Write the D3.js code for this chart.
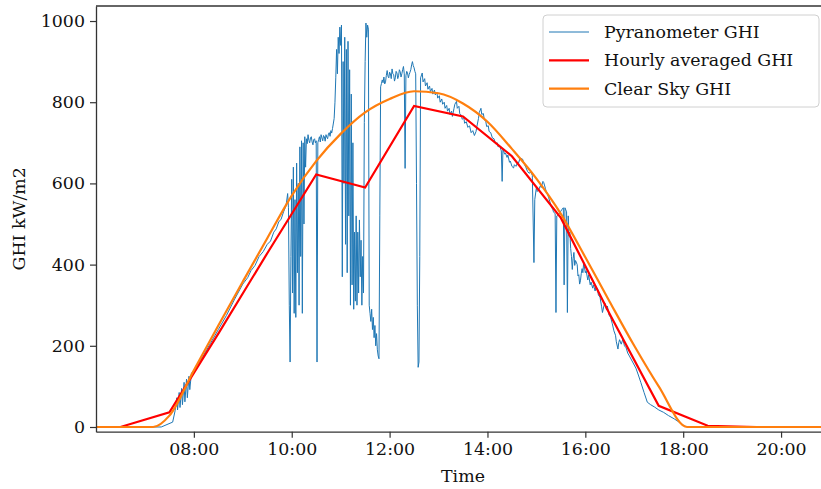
<!DOCTYPE html>
<html>
<head>
<meta charset="utf-8">
<script src="https://cdn.jsdelivr.net/npm/d3@7"></script>
<style>
  body { margin: 0; background: #fff; }
  text { font-family: "DejaVu Serif", serif; fill: #111; }
</style>
</head>
<body>
<svg id="chart"></svg>
<script>
// Pyranometer readings (time, GHI)
let pyranometer = [
  ["06:00",0],["07:20",0],["07:34",12],["07:37",40],["07:39",72],["07:40",42],["07:42",85],["07:43",48],
  ["07:45",95],["07:46",55],["07:48",110],["07:49",62],["07:51",118],["07:52",72],["07:54",125],["07:55",92],
  ["07:57",132],["08:00",140],["08:10",170],["08:20",205],["08:30",240],["08:40",275],["08:50",315],["09:00",352],
  ["09:06",368],["09:10",385],["09:15",398],["09:20",420],["09:25",432],["09:30",450],["09:34",458],["09:38",480],
  ["09:41",488],["09:44",505],["09:47",512],["09:50",530],["09:53",545],["09:55",575],
  ["09:56",540],["09:57",300],["09:58",160],["09:59",420],["10:00",610],["10:01",330],["10:02",640],["10:03",280],
  ["10:04",560],["10:05",270],["10:06",650],["10:07",380],["10:08",600],["10:09",300],["10:10",690],["10:11",420],
  ["10:12",705],["10:13",280],["10:14",700],["10:15",500],["10:16",715],["10:17",640],["10:18",710],["10:19",698],
  ["10:20",720],["10:21",706],["10:22",700],["10:23",712],["10:24",715],["10:25",702],["10:26",695],["10:27",708],
  ["10:28",710],["10:29",700],["10:30",705],["10:31",160],["10:32",700],["10:33",708],["10:34",715],["10:35",702],
  ["10:36",720],["10:37",712],["10:38",705],["10:39",718],["10:40",715],["10:41",704],["10:42",720],["10:43",714],
  ["10:44",710],["10:45",722],["10:46",725],["10:47",716],["10:48",730],["10:49",724],["10:50",735],
  ["10:52",760],["10:53",800],["10:54",860],["10:55",930],["10:56",870],["10:57",960],["10:58",920],["10:59",985],
  ["11:00",940],["11:01",990],["11:02",370],["11:03",900],["11:04",600],["11:05",960],["11:06",450],["11:07",930],
  ["11:08",380],["11:09",950],["11:10",520],["11:11",880],["11:12",300],["11:13",820],["11:14",350],["11:15",700],
  ["11:16",290],["11:17",480],["11:18",310],["11:19",520],["11:20",300],["11:21",480],["11:22",330],["11:23",510],
  ["11:24",370],["11:25",460],["11:26",300],["11:27",420],["11:28",330],["11:29",750],["11:30",900],["11:31",995],
  ["11:32",960],["11:33",990],["11:34",980],["11:35",300],["11:36",280],["11:37",260],["11:38",290],["11:39",240],
  ["11:40",270],["11:41",220],["11:42",250],["11:43",200],["11:44",230],["11:45",190],["11:46",175],["11:47",168],
  ["11:48",520],["11:49",838],["11:50",846],["11:51",855],["11:52",848],["11:53",862],["11:54",845],["11:55",850],
  ["11:56",866],["11:57",878],["11:58",864],["11:59",860],["12:00",874],["12:01",870],["12:02",858],["12:03",882],
  ["12:04",870],["12:05",868],["12:06",852],["12:07",860],["12:08",876],["12:09",872],["12:10",858],["12:11",865],
  ["12:12",880],["12:13",875],["12:14",862],["12:15",870],["12:16",880],["12:17",888],
  ["12:18",870],["12:19",637],["12:20",865],["12:21",876],["12:22",872],["12:23",860],["12:24",868],["12:25",874],
  ["12:26",880],["12:27",892],["12:28",900],["12:29",890],["12:30",885],["12:31",876],
  ["12:32",870],["12:33",600],["12:34",300],["12:35",147],["12:36",160],["12:37",420],["12:38",860],["12:40",872],
  ["12:41",850],["12:43",858],["12:44",840],["12:46",848],["12:47",832],["12:49",840],["12:50",826],["12:52",834],
  ["12:53",820],["12:55",830],["12:56",818],["12:58",824],["12:59",810],["13:01",816],["13:02",800],["13:04",808],
  ["13:05",795],["13:07",800],["13:08",785],["13:10",792],["13:11",778],["13:13",785],["13:14",770],["13:16",778],
  ["13:17",765],["13:19",785],["13:20",795],["13:22",802],["13:23",785],["13:25",790],["13:26",772],["13:28",768],
  ["13:29",758],["13:31",762],["13:32",748],["13:34",752],["13:36",738],["13:38",742],["13:40",725],["13:42",730],
  ["13:44",718],["13:46",728],["13:47",740],["13:49",760],["13:50",775],["13:52",785],["13:53",770],["13:55",772],
  ["13:56",758],["13:58",752],["13:59",740],["14:01",742],["14:02",728],["14:04",725],["14:06",712],["14:08",710],
  ["14:10",698],["14:12",700],["14:13",690],["14:15",692],["14:17",680],
  ["14:18",605],["14:19",685],["14:21",672],["14:22",675],["14:24",664],["14:25",670],["14:27",652],["14:28",655],
  ["14:30",642],["14:32",638],["14:33",646],["14:35",642],["14:37",652],["14:38",650],["14:40",662],
  ["14:43",660],["14:45",648],["14:47",640],["14:49",630],["14:51",625],["14:53",628],["14:55",620],["14:57",405],
  ["14:58",560],["15:00",590],["15:01",580],["15:03",585],["15:05",595],
  ["15:06",590],["15:08",605],["15:09",602],["15:11",588],["15:12",580],["15:14",572],["15:15",565],["15:17",552],
  ["15:18",544],["15:20",536],["15:21",530],["15:23",525],["15:24",282],
  ["15:25",520],["15:28",525],["15:31",535],["15:33",540],["15:34",350],["15:35",540],["15:37",530],["15:38",282],
  ["15:39",520],["15:40",470],["15:41",480],["15:42",440],["15:43",420],["15:44",388],["15:45",415],["15:46",430],
  ["15:47",398],["15:48",410],["15:50",400],["15:51",372],["15:52",375],["15:53",352],
  ["15:54",360],["15:55",378],["15:56",390],["15:57",380],["15:58",405],["16:00",380],["16:01",385],["16:03",362],
  ["16:04",375],["16:06",350],["16:07",357],["16:09",342],["16:10",350],["16:12",335],["16:13",345],
  ["16:15",339],["16:16",325],["16:18",320],["16:20",296],["16:21",282],["16:23",300],["16:24",305],["16:26",288],
  ["16:27",298],["16:29",276],["16:31",270],["16:33",255],["16:35",237],["16:37",226],["16:38",210],
  ["16:40",192],["16:41",208],["16:42",215],["16:44",204],["16:46",216],["16:48",200],["16:50",195],["16:52",182],
  ["16:54",175],["16:58",160],["17:02",145],["17:05",128],
  ["17:08",110],["17:12",85],["17:16",61],["17:20",55],["17:25",49],["17:30",42],["17:36",36],["17:42",28],
  ["17:49",20],["17:55",12],["18:01",3],["18:05",0],["21:00",0]
];

// hourly averages, plotted at the half hour
let hourlyTimes = ["05:30","06:30","07:30","08:30","09:30","10:30","11:30","12:30","13:30","14:30",
                   "15:30","16:30","17:30","18:30","19:30","20:30","21:30"];
let hourlyValues = [0, 0, 36, 230, 428, 622, 590, 791, 765, 667, 515, 278, 52, 3, 0, 0, 0];

// clear sky model
let clearSkyTimes = ["06:00","07:10","07:30","08:00","08:30","09:00","09:30","10:00","10:30","11:00","11:30",
                     "12:00","12:30","13:00","13:30","14:00","14:30","15:00","15:30","16:00","16:30","17:00",
                     "17:30","18:05","21:00"];
let clearSkyValues = [0, 0, 28, 140, 250, 358, 465, 570, 655, 722, 775, 808, 827, 822, 797, 752, 685, 612,
                      525, 418, 308, 200, 100, 0, 0];

let xTickLabels = ["08:00","10:00","12:00","14:00","16:00","18:00","20:00"];
let yTickValues = [0, 200, 400, 600, 800, 1000];

let legendLabels = ["Pyranometer GHI", "Hourly averaged GHI", "Clear Sky GHI"];
let seriesColors = ["#1f77b4", "#ff0000", "#ff7f0e"];

let parseTime = d3.timeParse("%H:%M");

function getConfig() {
    let width = 821;
    let height = 489;
    let margin = { top: 6, bottom: 57.3, left: 96, right: -9 };  // axes run past the right edge
    let bodyWidth = width - margin.left - margin.right;
    let bodyHeight = height - margin.top - margin.bottom;
    let container = d3.select("#chart").attr("width", width).attr("height", height);
    return { width, height, margin, bodyWidth, bodyHeight, container };
}

function getScales(config) {
    let { bodyWidth, bodyHeight } = config;
    let xScale = d3.scaleTime()
        .domain([parseTime("06:00"), parseTime("21:00")])
        .range([0, bodyWidth]);
    let yScale = d3.scaleLinear()
        .domain([-11.6, 1037])
        .range([bodyHeight, 0]);
    return { xScale, yScale };
}

function drawLines(scales, config) {
    let { xScale, yScale } = scales;
    let { margin, container, bodyWidth, bodyHeight } = config;

    container.append("clipPath").attr("id", "clip")
        .append("rect").attr("width", bodyWidth).attr("height", bodyHeight);

    let body = container.append("g")
        .attr("transform", `translate(${margin.left},${margin.top})`)
        .attr("clip-path", "url(#clip)");

    let line = d3.line()
        .x(d => xScale(parseTime(d[0])))
        .y(d => yScale(d[1]));

    let hourly = hourlyTimes.map((t, i) => [t, hourlyValues[i]]);
    let clearSky = clearSkyTimes.map((t, i) => [t, clearSkyValues[i]]);

    body.append("path").datum(pyranometer)
        .attr("d", line).attr("fill", "none")
        .attr("stroke", seriesColors[0]).attr("stroke-width", 1)
        .attr("stroke-linejoin", "round");
    body.append("path").datum(hourly)
        .attr("d", line).attr("fill", "none")
        .attr("stroke", seriesColors[1]).attr("stroke-width", 2.2);
    body.append("path").datum(clearSky)
        .attr("d", line.curve(d3.curveMonotoneX)).attr("fill", "none")
        .attr("stroke", seriesColors[2]).attr("stroke-width", 2.2);
}

function drawAxes(scales, config) {
    let { xScale, yScale } = scales;
    let { margin, container, bodyHeight, bodyWidth } = config;

    let axisX = d3.axisBottom(xScale)
        .tickValues(xTickLabels.map(parseTime))
        .tickFormat(d3.timeFormat("%H:%M"))
        .tickSize(6).tickPadding(5).tickSizeOuter(0);
    let gx = container.append("g")
        .attr("transform", `translate(${margin.left},${margin.top + bodyHeight})`)
        .call(axisX);

    let axisY = d3.axisLeft(yScale)
        .tickValues(yTickValues)
        .tickFormat(d3.format("d"))
        .tickSize(6).tickPadding(5).tickSizeOuter(0);
    let gy = container.append("g")
        .attr("transform", `translate(${margin.left},${margin.top})`)
        .call(axisY);

    [gx, gy].forEach(g => {
        g.selectAll(".domain").attr("stroke", "#333").attr("stroke-width", 1.3);
        g.selectAll(".tick line").attr("stroke", "#333").attr("stroke-width", 1.2);
        g.selectAll(".tick text").style("font-family", "DejaVu Serif").style("font-size", "17.4px").attr("fill", "#111");
    });

    // top spine
    container.append("line")
        .attr("x1", margin.left).attr("x2", margin.left + bodyWidth)
        .attr("y1", margin.top).attr("y2", margin.top)
        .attr("stroke", "#333").attr("stroke-width", 1.3);

    container.append("text")
        .attr("x", margin.left + bodyWidth / 2).attr("y", 482)
        .attr("text-anchor", "middle").style("font-size", "17.4px")
        .text("Time");

    container.append("text")
        .attr("transform", `translate(25,${margin.top + bodyHeight / 2}) rotate(-90)`)
        .attr("text-anchor", "middle").style("font-size", "17.4px")
        .text("GHI kW/m2");
}

function drawLegend(config) {
    let { container } = config;
    let legend = container.append("g").attr("transform", "translate(543,15)");
    legend.append("rect")
        .attr("width", 276).attr("height", 92).attr("rx", 4)
        .attr("fill", "#fff").attr("fill-opacity", 0.8)
        .attr("stroke", "#d0d0d0").attr("stroke-width", 1);

    legendLabels.forEach((label, i) => {
        let y = 17 + i * 28.3;
        legend.append("line")
            .attr("x1", 6).attr("x2", 46).attr("y1", y).attr("y2", y)
            .attr("stroke", seriesColors[i]).attr("stroke-width", i == 0 ? 1 : 2.2);
        legend.append("text")
            .attr("x", 61).attr("y", y).attr("dy", "0.35em")
            .style("font-size", "17.4px")
            .text(label);
    });
}

function drawChart() {
    let config = getConfig();
    let scales = getScales(config);
    drawLines(scales, config);
    drawAxes(scales, config);
    drawLegend(config);
}

drawChart();
</script>
</body>
</html>
